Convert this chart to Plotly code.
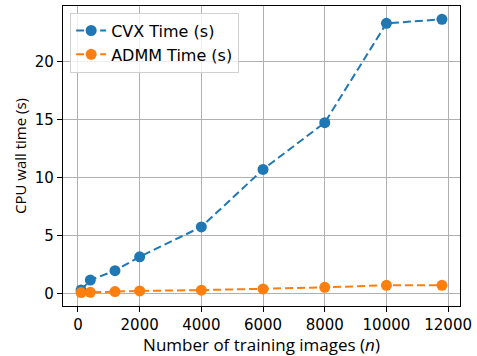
import plotly.graph_objects as go

# Training set sizes and measured CPU wall times
n_images = [100, 400, 1200, 2000, 4000, 6000, 8000, 10000, 11800]
cvx_time = [0.28, 1.14, 1.95, 3.15, 5.73, 10.69, 14.73, 23.3, 23.65]
admm_time = [0.06, 0.08, 0.15, 0.2, 0.27, 0.37, 0.51, 0.69, 0.69]

x_ticks = [0, 2000, 4000, 6000, 8000, 10000, 12000]
x_tick_text = ["0", "2000", "4000", "6000", "8000", "10000", "12000"]
y_ticks = [0, 5, 10, 15, 20]
y_tick_text = ["0", "5", "10", "15", "20"]

FONT = "DejaVu Sans"
LABEL_FONT = "Open Sans"

fig = go.Figure()
fig.add_trace(go.Scatter(
    x=n_images, y=cvx_time, name="CVX Time (s)", mode="lines+markers",
    line=dict(color="#1f77b4", width=2, dash="8px,4px"),
    marker=dict(size=11, color="#1f77b4"),
))
fig.add_trace(go.Scatter(
    x=n_images, y=admm_time, name="ADMM Time (s)", mode="lines+markers",
    line=dict(color="#ff7f0e", width=2, dash="8px,4px"),
    marker=dict(size=11, color="#ff7f0e"),
))

axis_common = dict(
    showline=True, linecolor="black", linewidth=1.3, mirror=True,
    ticks="outside", ticklen=5, tickwidth=1.2, tickcolor="black",
    showgrid=True, gridcolor="#b0b0b0", gridwidth=1,
    zeroline=False,
    tickfont=dict(family=FONT, size=15, color="black"),
)

fig.update_layout(
    width=477, height=356,
    margin=dict(l=63, r=12, t=5, b=50),
    plot_bgcolor="white", paper_bgcolor="white",
    font=dict(family=FONT, size=15, color="black"),
    xaxis=dict(
        range=[-485, 12385], tickvals=x_ticks, ticktext=x_tick_text,
        title=dict(text="Number of training images (<i>n</i>)",
                   font=dict(family=LABEL_FONT, size=17), standoff=2),
        **axis_common,
    ),
    yaxis=dict(
        range=[-1.1, 24.8], tickvals=y_ticks, ticktext=y_tick_text,
        title=dict(text="CPU wall time (s)",
                   font=dict(family=LABEL_FONT, size=15), standoff=4),
        **axis_common,
    ),
    legend=dict(
        x=0.018, y=0.978, xanchor="left", yanchor="top",
        bgcolor="rgba(255,255,255,0.8)", bordercolor="#d0d0d0", borderwidth=1,
        font=dict(family=FONT, size=16),
        itemwidth=30,
    ),
)

fig.write_html("out.html")
